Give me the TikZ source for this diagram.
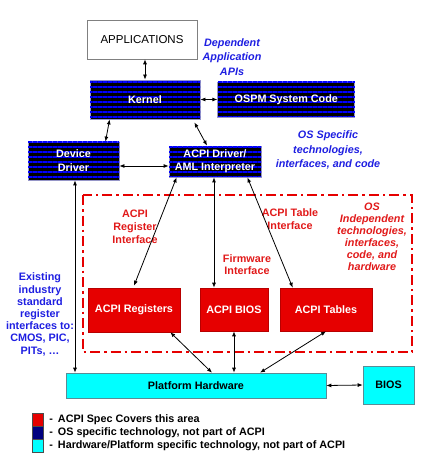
\documentclass[tikz,border=0pt]{standalone}
\usepackage{fontspec}
\setmainfont{Liberation Sans}
\usetikzlibrary{arrows.meta,positioning,patterns.meta}
\definecolor{acpired}{RGB}{230,0,0}
\definecolor{osnavy}{RGB}{0,0,128}
\definecolor{osedge}{RGB}{150,150,200}
\definecolor{stripe}{RGB}{0,0,255}
\definecolor{hwcyan}{RGB}{0,255,255}
\definecolor{hwedge}{RGB}{90,140,150}
\definecolor{txtblue}{RGB}{30,30,225}
\definecolor{txtred}{RGB}{225,25,25}

\begin{document}
\begin{tikzpicture}[x=1pt,y=-1pt,% pixel-like coordinates, y going down
      every node/.style={
        align=center,     % so that "\\" breaks lines
        inner sep=0pt,
        font=\fontsize{10.8}{13}\selectfont\bfseries
      },
      appbox/.style={rectangle,draw=gray,line width=0.6pt,fill=white,
        font=\fontsize{11.5}{13}\selectfont},
      osbox/.style={rectangle,draw=osedge,line width=0.8pt,fill=black,text=white,
        postaction={pattern={Lines[angle=0,distance=5pt,line width=2pt]},pattern color=stripe}},
      acpibox/.style={rectangle,draw=acpired!80!black,line width=0.6pt,fill=acpired,text=white},
      hwbox/.style={rectangle,draw=hwedge,line width=0.6pt,fill=hwcyan,text=black},
      bluenote/.style={text=txtblue},
      rednote/.style={text=txtred},
      legsq/.style={rectangle,draw=black!70,line width=0.4pt,minimum width=11pt,minimum height=13pt},
      legtext/.style={anchor=west,font=\fontsize{10.8}{12.5}\selectfont\bfseries},
      >={Latex[length=5pt,width=4pt]},
      every edge/.style={draw,line width=0.8pt}
    ]
    \useasboundingbox (0,0) rectangle (437,462);
    % OS independent area
    \draw[acpired,line width=1.6pt,dash pattern=on 10pt off 4pt on 2.5pt off 4pt]
      (83,195) rectangle (412,352);

    \node[appbox,minimum width=110pt,minimum height=39pt](apps) at (142,39.5){APPLICATIONS};
    \node[osbox,minimum width=110pt,minimum height=39pt](kernel) at (145,99.5){Kernel};
    \node[osbox,minimum width=137pt,minimum height=35pt](ospm)[right=17pt of kernel]{OSPM System Code};
    \node[osbox,minimum width=91pt,minimum height=38pt,font=\fontsize{10.8}{14}\selectfont\bfseries](devdrv) at (73.5,161){Device\\Driver};
    \node[osbox,minimum width=92pt,minimum height=31pt](acpidrv) at (215,161.5){ACPI Driver/\\AML Interpreter};

    \node[acpibox,minimum width=92pt,minimum height=44pt](acpireg) at (134,310){ACPI Registers};
    \node[acpibox,minimum width=68pt,minimum height=43pt](acpibios) at (234,309.5){ACPI BIOS};
    \node[acpibox,minimum width=92pt,minimum height=43pt](acpitab) at (326,309.5){ACPI Tables};

    \node[hwbox,minimum width=260pt,minimum height=25pt](platform) at (196,385.5){Platform Hardware};
    \node[hwbox,minimum width=51pt,minimum height=38pt](bios) at (388.5,385){BIOS};

    % notes
    \node[bluenote,font=\fontsize{10.8}{14.5}\selectfont\bfseries\itshape](depnote) at (232,57){Dependent\\Application\\APIs};
    \node[bluenote,font=\fontsize{10.8}{14.5}\selectfont\bfseries\itshape](osnote) at (328,150){OS Specific\\technologies,\\interfaces, and code};
    \node[bluenote,font=\fontsize{10.8}{12.2}\selectfont\bfseries](stdnote) at (40,314.5){Existing\\industry\\standard\\register\\interfaces to:\\CMOS, PIC,\\PITs, \dots};
    \node[rednote](regnote) at (135,227){ACPI\\Register\\Interface};
    \node[rednote,font=\fontsize{10.8}{12.5}\selectfont\bfseries](tabnote) at (290,219){ACPI Table\\Interface};
    \node[rednote,font=\fontsize{10.8}{11.5}\selectfont\bfseries](fwnote) at (247,264.5){Firmware\\Interface};
    \node[rednote,font=\fontsize{10.8}{12}\selectfont\bfseries\itshape](indnote) at (372,237){OS\\Independent\\technologies,\\interfaces,\\code, and\\hardware};

    % legend
    \node[legsq,fill=acpired](legacpi) at (37.5,419.5){};
    \node[legsq,fill=osnavy](legos) at (37.5,432.5){};
    \node[legsq,fill=hwcyan](leghw) at (37.5,445.5){};
    \node[legtext](legacpitext)[right=6pt of legacpi]{-\hspace{5pt}ACPI Spec Covers this area};
    \node[legtext](legostext)[right=6pt of legos]{-\hspace{5pt}OS specific technology, not part of ACPI};
    \node[legtext](leghwtext)[right=6pt of leghw]{-\hspace{5pt}Hardware/Platform specific technology, not part of ACPI};

    \path[<->]
    (kernel.north)edge[] (kernel.north |- apps.south)
    (kernel.east)edge[] (ospm.west)
    ([xshift=20pt]kernel.south west)edge[] ([xshift=32pt]devdrv.north)
    ([xshift=-6pt,yshift=-3pt]kernel.south east)edge[] ([xshift=-8pt]acpidrv.north)
    ([yshift=-5pt]devdrv.east)edge[] ([yshift=-5pt]devdrv.east -| acpidrv.west)
    ([xshift=8pt]acpidrv.south west)edge[] ([yshift=2pt]acpireg.north)
    ([xshift=-1pt]acpidrv.south)edge[] ([xshift=-1pt]acpidrv.south |- acpibios.north)
    ([xshift=-14pt]acpidrv.south east)edge[] ([xshift=13pt]acpitab.north west)
    ([xshift=1.5pt]devdrv.south)edge[] ([xshift=1.5pt]devdrv.south |- platform.north)
    ([xshift=-10pt]acpireg.south east)edge[] ([xshift=16pt]platform.north)
    (acpibios.south)edge[] (acpibios.south |- platform.north)
    (acpitab.south)edge[] ([xshift=64pt]platform.north)
    (platform.east)edge[] (bios.west)
    ;
  \end{tikzpicture}
\end{document}
